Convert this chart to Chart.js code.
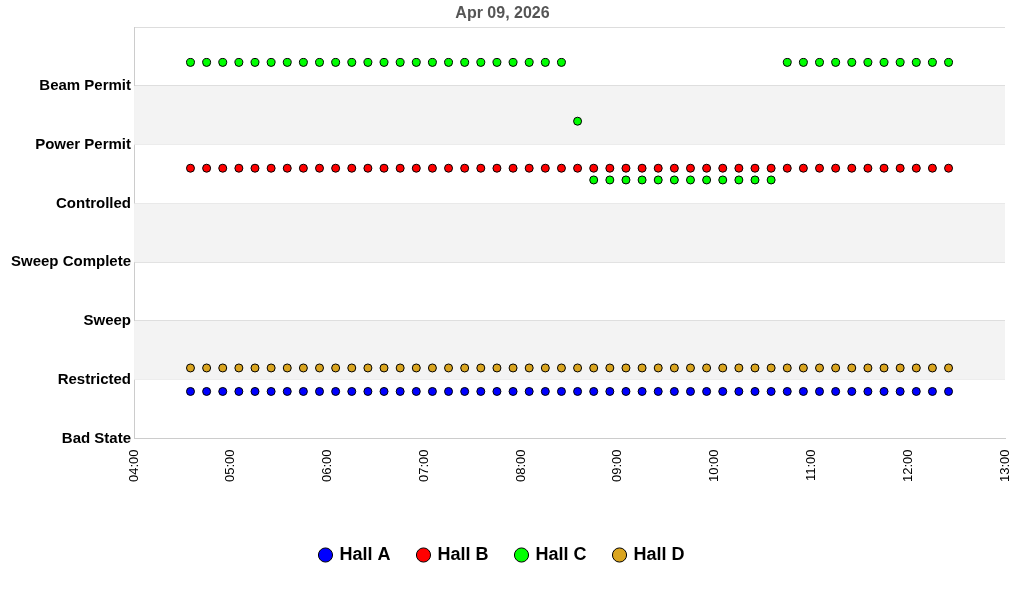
<!DOCTYPE html>
<html><head><meta charset="utf-8">
<script src="https://cdn.jsdelivr.net/npm/chart.js@4/dist/chart.umd.min.js"></script>
<style>html,body{margin:0;background:#fff}#w{width:1024px;height:600px}</style>
</head><body><div id="w"><canvas id="c"></canvas></div>
<script>
const stateLabels = ["Bad State","Restricted","Sweep","Sweep Complete","Controlled","Power Permit","Beam Permit"];
const times = ["04:35","04:45","04:55","05:05","05:15","05:25","05:35","05:45","05:55","06:05","06:15","06:25","06:35","06:45","06:55","07:05","07:15","07:25","07:35","07:45","07:55","08:05","08:15","08:25","08:35","08:45","08:55","09:05","09:15","09:25","09:35","09:45","09:55","10:05","10:15","10:25","10:35","10:45","10:55","11:05","11:15","11:25","11:35","11:45","11:55","12:05","12:15","12:25"];
const hallA = [0.8,0.8,0.8,0.8,0.8,0.8,0.8,0.8,0.8,0.8,0.8,0.8,0.8,0.8,0.8,0.8,0.8,0.8,0.8,0.8,0.8,0.8,0.8,0.8,0.8,0.8,0.8,0.8,0.8,0.8,0.8,0.8,0.8,0.8,0.8,0.8,0.8,0.8,0.8,0.8,0.8,0.8,0.8,0.8,0.8,0.8,0.8,0.8];
const hallB = [4.6,4.6,4.6,4.6,4.6,4.6,4.6,4.6,4.6,4.6,4.6,4.6,4.6,4.6,4.6,4.6,4.6,4.6,4.6,4.6,4.6,4.6,4.6,4.6,4.6,4.6,4.6,4.6,4.6,4.6,4.6,4.6,4.6,4.6,4.6,4.6,4.6,4.6,4.6,4.6,4.6,4.6,4.6,4.6,4.6,4.6,4.6,4.6];
const hallC = [6.4,6.4,6.4,6.4,6.4,6.4,6.4,6.4,6.4,6.4,6.4,6.4,6.4,6.4,6.4,6.4,6.4,6.4,6.4,6.4,6.4,6.4,6.4,6.4,5.4,4.4,4.4,4.4,4.4,4.4,4.4,4.4,4.4,4.4,4.4,4.4,4.4,6.4,6.4,6.4,6.4,6.4,6.4,6.4,6.4,6.4,6.4,6.4];
const hallD = [1.2,1.2,1.2,1.2,1.2,1.2,1.2,1.2,1.2,1.2,1.2,1.2,1.2,1.2,1.2,1.2,1.2,1.2,1.2,1.2,1.2,1.2,1.2,1.2,1.2,1.2,1.2,1.2,1.2,1.2,1.2,1.2,1.2,1.2,1.2,1.2,1.2,1.2,1.2,1.2,1.2,1.2,1.2,1.2,1.2,1.2,1.2,1.2];
const toMin = t => { const [h,m]=t.split(':').map(Number); return h*60+m; };
const fmt = v => String(Math.floor(v/60)).padStart(2,'0')+':'+String(v%60).padStart(2,'0');
const mk = (label, vals, color) => ({label, data: vals.map((y,i)=>({x:toMin(times[i]),y})), showLine:false,
  backgroundColor:color, borderColor:'#000', borderWidth:1, pointRadius:4, pointHoverRadius:4, pointStyle:'circle'});
const bands = {id:'bands', beforeDatasetsDraw(ch){
  const {ctx, chartArea:a, scales:{y}} = ch; ctx.save(); ctx.fillStyle='#f3f3f3';
  [[1,2],[3,4],[5,6]].forEach(([lo,hi])=>{const t=y.getPixelForValue(hi),b=y.getPixelForValue(lo);ctx.fillRect(a.left,t,a.right-a.left,b-t);});
  ctx.restore();}};
new Chart(document.getElementById('c'), {
  type:'scatter',
  data:{datasets:[mk('Hall A',hallA,'#0000ff'),mk('Hall B',hallB,'#ff0000'),mk('Hall C',hallC,'#00ff00'),mk('Hall D',hallD,'#daa520')]},
  options:{responsive:true,maintainAspectRatio:false,animation:false,
    layout:{padding:{right:19,bottom:26}},
    plugins:{title:{display:true,text:'Apr 09, 2026',color:'#555',font:{family:'Liberation Sans',size:16,weight:'bold'},padding:{top:4,bottom:4}},
      legend:{position:'bottom',labels:{usePointStyle:true,pointStyle:'circle',boxWidth:10,boxHeight:10,padding:28,color:'#000',font:{family:'Liberation Sans',size:18,weight:'bold'}}},
      tooltip:{enabled:false}},
    scales:{
      x:{type:'linear',min:240,max:780,afterFit:s=>{s.height+=33;},ticks:{stepSize:60,callback:v=>fmt(v),maxRotation:90,minRotation:90,color:'#000',font:{family:'Liberation Sans',size:13}},
        grid:{display:false},border:{color:'#ccc'}},
      y:{min:0,max:7,afterFit:s=>{s.width+=8;},ticks:{stepSize:1,callback:v=>stateLabels[v]??'',color:'#000',font:{family:'Liberation Sans',size:15,weight:'bold'}},
        grid:{color:'#ddd',drawTicks:false},border:{color:'#ccc'}}
    }},
  plugins:[bands]
});
</script></body></html>
